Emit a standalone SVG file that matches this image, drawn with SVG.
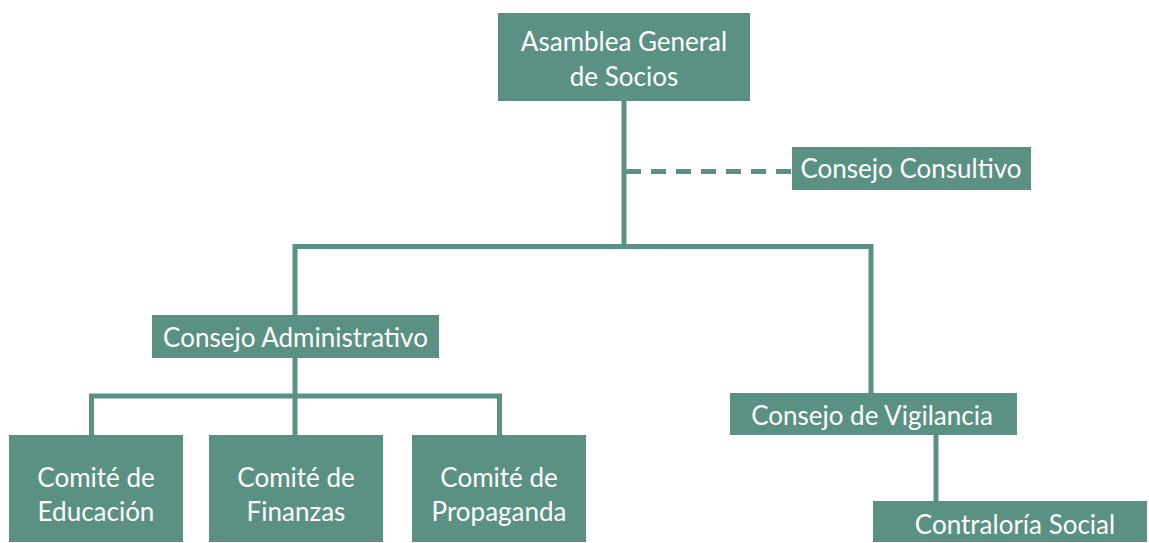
<svg xmlns="http://www.w3.org/2000/svg" width="1149" height="543" viewBox="0 0 1149 543">
<style>
.box{fill:#5a9184}
.t{font-family:Lato,"Liberation Sans",sans-serif;font-size:26px;fill:#ffffff;text-anchor:middle}
.ln{stroke:#5a9184;stroke-width:5;fill:none}
.dash{stroke:#5a9184;stroke-width:5;fill:none;stroke-dasharray:15 10}
</style>
<rect width="1149" height="543" fill="#ffffff"/>
<g id="connectors">
<line class="ln" x1="624" y1="100" x2="624" y2="247"/>
<line class="dash" x1="626" y1="171.5" x2="793" y2="171.5"/>
<polyline class="ln" points="295,316 295,246.5 871,246.5 871,394"/>
<line class="ln" x1="295" y1="357" x2="295" y2="436"/>
<polyline class="ln" points="91.5,436 91.5,396 499.5,396 499.5,436"/>
<line class="ln" x1="936" y1="434" x2="936" y2="502"/>
</g>
<g id="asamblea">
<rect class="box" x="498" y="13" width="252" height="88"/>
<text class="t" x="624" y="51">Asamblea General</text>
<text class="t" x="624" y="86">de Socios</text>
</g>
<g id="consultivo">
<rect class="box" x="792" y="147" width="239" height="43"/>
<text class="t" x="911" y="178">Consejo Consultivo</text>
</g>
<g id="administrativo">
<rect class="box" x="152" y="315" width="287" height="43"/>
<text class="t" x="295.5" y="347">Consejo Administrativo</text>
</g>
<g id="vigilancia">
<rect class="box" x="730" y="393" width="287" height="42"/>
<text class="t" x="872" y="425">Consejo de Vigilancia</text>
</g>
<g id="contraloria">
<rect class="box" x="873" y="501" width="274" height="41"/>
<text class="t" x="1015" y="534">Contraloría Social</text>
</g>
<g id="educacion">
<rect class="box" x="9" y="435" width="174" height="107"/>
<text class="t" x="96" y="487">Comité de</text>
<text class="t" x="96" y="521">Educación</text>
</g>
<g id="finanzas">
<rect class="box" x="209" y="435" width="174" height="107"/>
<text class="t" x="296" y="487">Comité de</text>
<text class="t" x="296" y="521">Finanzas</text>
</g>
<g id="propaganda">
<rect class="box" x="412" y="435" width="174" height="107"/>
<text class="t" x="499" y="487">Comité de</text>
<text class="t" x="499" y="521">Propaganda</text>
</g>
</svg>
